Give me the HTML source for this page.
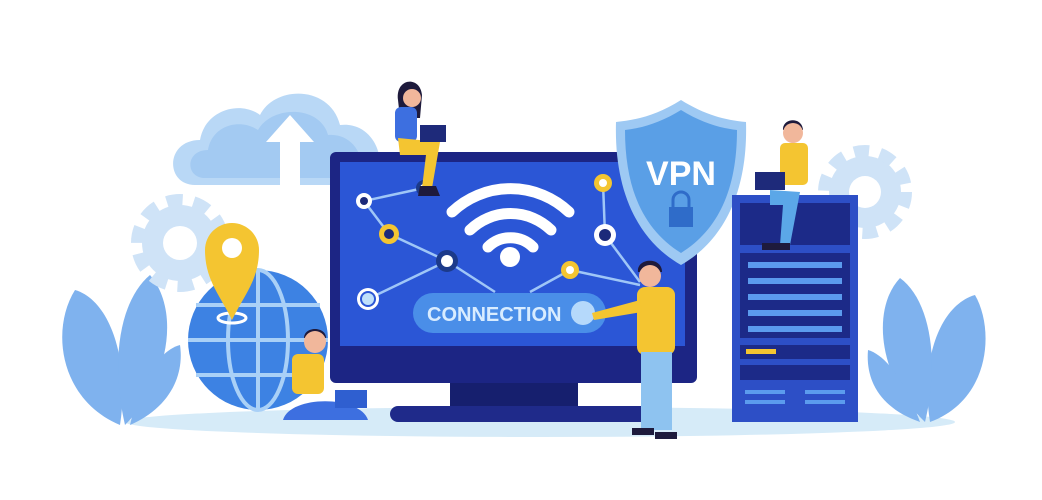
<!DOCTYPE html>
<html><head><meta charset="utf-8"><style>html,body{margin:0;padding:0;background:#fff}svg{display:block}</style></head><body>
<svg width="1042" height="500" viewBox="0 0 1042 500" xmlns="http://www.w3.org/2000/svg">
<ellipse cx="540" cy="422" rx="415" ry="15" fill="#d6ebf8"/>
<g fill="#7fb2ee">
<path d="M120 425 C60 400 50 330 75 290 C110 300 130 360 120 425Z"/>
<path d="M125 425 C110 360 120 300 150 275 C180 310 170 380 125 425Z"/>
<path d="M130 425 C140 380 160 350 180 345 C185 380 165 410 130 425Z"/>
<path d="M930 422 C990 400 995 330 975 295 C940 305 920 360 930 422Z"/>
<path d="M925 422 C940 360 930 300 900 278 C870 310 880 380 925 422Z"/>
<path d="M920 422 C905 380 885 355 868 350 C865 385 885 410 920 422Z"/>
</g>
<g fill="#cfe3f7">
<circle cx="180" cy="243" r="38"/>
<circle cx="865" cy="192" r="36"/>
</g>
<g fill="none" stroke="#cfe3f7" stroke-width="12">
<circle cx="180" cy="243" r="43" stroke-dasharray="16 11"/>
<circle cx="865" cy="192" r="41" stroke-dasharray="15 11"/>
</g>
<circle cx="180" cy="243" r="17" fill="#fff"/>
<circle cx="865" cy="192" r="16" fill="#fff"/>
<path d="M195 185 C165 185 165 140 200 140 C205 110 240 100 260 115 C275 85 330 85 340 125 C380 120 395 180 360 185Z" fill="#b9d8f6"/>
<path d="M205 178 C185 178 185 150 208 150 C212 125 240 118 258 130 C272 105 320 105 328 135 C360 132 372 175 350 178Z" fill="#a3caf2"/>
<path d="M280 185 L280 142 L266 142 L290 115 L314 142 L300 142 L300 185Z" fill="#fff"/>
<circle cx="258" cy="340" r="70" fill="#3d82e3"/>
<g fill="none" stroke="#a9d0f7" stroke-width="4">
<ellipse cx="258" cy="340" rx="30" ry="70"/>
<line x1="258" y1="270" x2="258" y2="410"/>
<line x1="188" y1="340" x2="328" y2="340"/>
<path d="M196 305 H320 M196 375 H320"/>
</g>
<ellipse cx="232" cy="318" rx="14" ry="5" fill="none" stroke="#fff" stroke-width="3"/>
<path d="M232 320 C220 295 205 280 205 250 A27 27 0 0 1 259 250 C259 280 244 295 232 320Z" fill="#f4c531"/>
<circle cx="232" cy="248" r="10" fill="#fff"/>
<rect x="450" y="380" width="128" height="32" fill="#161f6e"/>
<rect x="390" y="406" width="270" height="16" rx="8" fill="#1f2a8a"/>
<rect x="330" y="152" width="367" height="231" rx="6" fill="#1c2584"/>
<rect x="340" y="162" width="345" height="184" fill="#2b56d6"/>
<g stroke="#9fc6f7" stroke-width="2.5" fill="none">
<polyline points="368,299 447,261 389,234 364,201 424,188"/>
<line x1="447" y1="261" x2="495" y2="292"/>
<polyline points="530,292 570,270 640,285"/>
<line x1="605" y1="235" x2="640" y2="282"/>
<line x1="605" y1="235" x2="603" y2="183"/>
</g>
<circle cx="364" cy="201" r="8" fill="#fff"/><circle cx="364" cy="201" r="4" fill="#1c2a7a"/>
<circle cx="389" cy="234" r="10" fill="#f4c531"/><circle cx="389" cy="234" r="5" fill="#1c2a7a"/>
<circle cx="447" cy="261" r="11" fill="#1c3a8a"/><circle cx="447" cy="261" r="6" fill="#fff"/>
<circle cx="368" cy="299" r="11" fill="#fff"/><circle cx="368" cy="299" r="8" fill="#2b56d6"/><circle cx="368" cy="299" r="6" fill="#bfe0fb"/>
<circle cx="424" cy="188" r="8" fill="#1c3a8a"/><circle cx="424" cy="188" r="4" fill="#fff"/>
<circle cx="603" cy="183" r="9" fill="#f4c531"/><circle cx="603" cy="183" r="4" fill="#fff"/>
<circle cx="605" cy="235" r="11" fill="#fff"/><circle cx="605" cy="235" r="6" fill="#1c2a7a"/>
<circle cx="570" cy="270" r="9" fill="#f4c531"/><circle cx="570" cy="270" r="4" fill="#fff"/>
<g fill="none" stroke="#fff" stroke-width="11" stroke-linecap="round">
<path d="M452 212 A85 85 0 0 1 569 212"/>
<path d="M470 230 A58 58 0 0 1 551 230"/>
<path d="M488 247 A32 32 0 0 1 533 247"/>
</g>
<circle cx="510" cy="257" r="10" fill="#fff"/>
<rect x="413" y="293" width="193" height="40" rx="20" fill="#4a8ee8"/>
<text x="427" y="321" font-family="Liberation Sans, sans-serif" font-size="20" font-weight="bold" fill="#d8ecff">CONNECTION</text>
<circle cx="583" cy="313" r="12" fill="#b5d9fb"/>
<path d="M681 100 C705 115 725 120 746 122 C748 190 725 240 681 265 C637 240 614 190 616 122 C637 120 657 115 681 100Z" fill="#9ec9f3"/>
<path d="M681 110 C702 123 720 128 737 130 C737 190 718 230 681 253 C644 230 625 190 625 130 C642 128 660 123 681 110Z" fill="#5a9fe6"/>
<text x="681" y="185" text-anchor="middle" font-family="Liberation Sans, sans-serif" font-size="34" font-weight="bold" fill="#fff">VPN</text>
<rect x="669" y="207" width="24" height="20" fill="#2f6cc9"/>
<path d="M673 207 V200 A8 8 0 0 1 689 200 V207" fill="none" stroke="#2f6cc9" stroke-width="3"/>
<rect x="732" y="195" width="126" height="227" fill="#2d4fc6"/>
<rect x="740" y="203" width="110" height="42" fill="#1c2a88"/>
<rect x="740" y="253" width="110" height="85" fill="#1c2a88"/>
<g fill="#5b9bee"><rect x="748" y="262" width="94" height="6"/><rect x="748" y="278" width="94" height="6"/><rect x="748" y="294" width="94" height="6"/><rect x="748" y="310" width="94" height="6"/><rect x="748" y="326" width="94" height="6"/></g>
<rect x="740" y="345" width="110" height="14" fill="#1c2a88"/>
<rect x="746" y="349" width="30" height="5" fill="#f4c531"/>
<rect x="740" y="365" width="110" height="15" fill="#1c2a88"/>
<g fill="#5b9bee"><rect x="745" y="390" width="40" height="4"/><rect x="805" y="390" width="40" height="4"/><rect x="745" y="400" width="40" height="4"/><rect x="805" y="400" width="40" height="4"/></g>
<!-- woman top -->
<path d="M398 100 C395 78 420 75 422 95 L420 118 L400 118Z" fill="#1e1a3c"/>
<circle cx="412" cy="98" r="9" fill="#f1b79b"/>
<rect x="395" y="107" width="22" height="35" rx="6" fill="#3d6fe0"/>
<path d="M398 138 L440 142 L432 188 L422 188 L426 155 L400 155Z" fill="#f4c531"/>
<rect x="420" y="125" width="26" height="17" fill="#1e2a7a"/>
<path d="M420 186 L436 186 L440 196 L418 196Z" fill="#1e1a3c"/>
<!-- man on server -->
<path d="M783 130 C782 118 802 116 803 130Z" fill="#1e1a3c"/>
<circle cx="793" cy="133" r="10" fill="#f1b79b"/>
<rect x="780" y="143" width="28" height="42" rx="5" fill="#f4c531"/>
<rect x="755" y="172" width="30" height="18" fill="#1e2a7a"/>
<path d="M770 190 L800 192 L790 245 L780 245 L783 205 L770 205Z" fill="#5ba7e8"/>
<rect x="762" y="243" width="28" height="7" fill="#1e1a3c"/>
<!-- man sitting -->
<path d="M304 338 C304 326 326 326 326 338Z" fill="#1e1a3c"/>
<circle cx="315" cy="342" r="11" fill="#f1b79b"/>
<rect x="292" y="354" width="32" height="40" rx="6" fill="#f4c531"/>
<path d="M283 420 C290 395 360 395 368 420Z" fill="#3d6fe0"/>
<rect x="335" y="390" width="32" height="18" fill="#2f5fd0"/>
<!-- man standing -->
<path d="M638 272 C636 258 662 256 662 272Z" fill="#1e1a3c"/>
<circle cx="650" cy="276" r="11" fill="#f1b79b"/>
<rect x="637" y="287" width="38" height="68" rx="8" fill="#f4c531"/>
<path d="M640 300 L592 313 L594 320 L642 312Z" fill="#f4c531"/>
<rect x="641" y="352" width="31" height="78" fill="#8ec3f0"/>
<rect x="632" y="428" width="22" height="7" fill="#1e1a3c"/>
<rect x="655" y="432" width="22" height="7" fill="#1e1a3c"/>
</svg>
</body></html>
